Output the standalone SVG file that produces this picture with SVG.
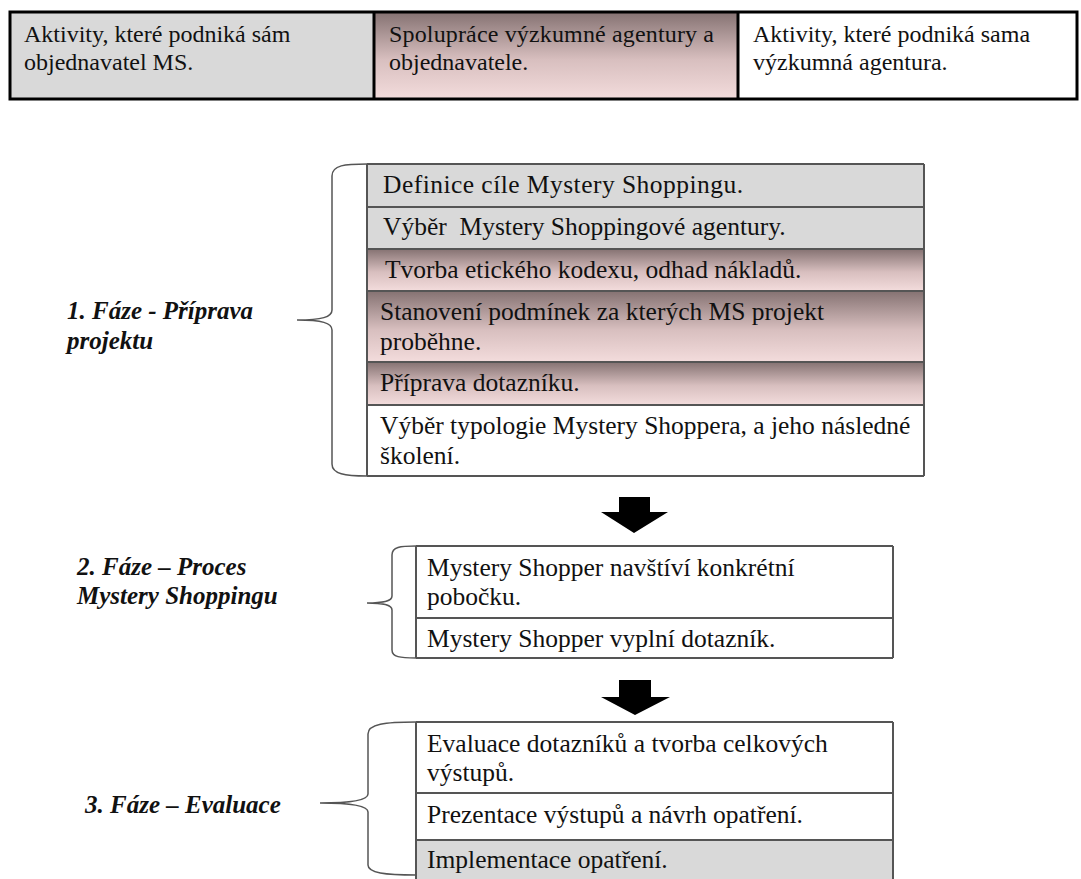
<svg xmlns="http://www.w3.org/2000/svg" width="1081" height="879" viewBox="0 0 1081 879">
<defs>
<linearGradient id="pink" x1="0" y1="0" x2="0" y2="1">
<stop offset="0" stop-color="#857272"/>
<stop offset="0.55" stop-color="#d8bfbf"/>
<stop offset="1" stop-color="#f3dcdc"/>
</linearGradient>
<style>
.t{font-family:"Liberation Serif","Times New Roman",serif;font-size:25.5px;fill:#111}
.h{font-family:"Liberation Serif","Times New Roman",serif;font-size:24px;fill:#111}
.lab{font-family:"Liberation Serif","Times New Roman",serif;font-size:25px;font-weight:bold;font-style:italic;fill:#111}
.row{stroke:#555;stroke-width:2}
.gray{fill:#d9d9d9}
.white{fill:#ffffff}
.pk{fill:url(#pink)}
.brace{fill:none;stroke:#555;stroke-width:1.5}
.arrow{fill:#000}
</style>
</defs>
<rect width="1081" height="879" fill="#ffffff"/>

<g id="legend">
<rect x="10" y="12" width="364" height="87" class="gray"/>
<rect x="374" y="12" width="364" height="87" class="pk"/>
<rect x="738" y="12" width="339" height="87" class="white"/>
<rect x="10" y="12" width="1067" height="87" fill="none" stroke="#000" stroke-width="3"/>
<line x1="374" y1="12" x2="374" y2="99" stroke="#000" stroke-width="3"/>
<line x1="738" y1="12" x2="738" y2="99" stroke="#000" stroke-width="3"/>
<text class="h" x="24" y="42">Aktivity, které podniká sám</text>
<text class="h" x="24" y="70">objednavatel MS.</text>
<text class="h" x="389" y="42" textLength="325" lengthAdjust="spacing">Spolupráce výzkumné agentury a</text>
<text class="h" x="389" y="70">objednavatele.</text>
<text class="h" x="753" y="42">Aktivity, které podniká sama</text>
<text class="h" x="753" y="70">výzkumná agentura.</text>
</g>

<g id="phase1">
<rect x="367" y="164" width="557" height="43" class="gray"/>
<rect x="367" y="207" width="557" height="42" class="gray"/>
<rect x="367" y="249" width="557" height="42" class="pk"/>
<rect x="367" y="291" width="557" height="71" class="pk"/>
<rect x="367" y="362" width="557" height="43" class="pk"/>
<rect x="367" y="405" width="557" height="71" class="white"/>
<g class="row">
<line x1="367" y1="164" x2="924" y2="164"/>
<line x1="367" y1="207" x2="924" y2="207"/>
<line x1="367" y1="249" x2="924" y2="249"/>
<line x1="367" y1="291" x2="924" y2="291"/>
<line x1="367" y1="362" x2="924" y2="362"/>
<line x1="367" y1="405" x2="924" y2="405"/>
<line x1="367" y1="476" x2="924" y2="476"/>
<line x1="367" y1="164" x2="367" y2="476"/>
<line x1="924" y1="164" x2="924" y2="476"/>
</g>
<text class="t" x="383" y="193" textLength="360" lengthAdjust="spacing">Definice cíle Mystery Shoppingu.</text>
<text class="t" x="383" y="235" xml:space="preserve">Výběr  Mystery Shoppingové agentury.</text>
<text class="t" x="385" y="278">Tvorba etického kodexu, odhad nákladů.</text>
<text class="t" x="380" y="320">Stanovení podmínek za kterých MS projekt</text>
<text class="t" x="380" y="350">proběhne.</text>
<text class="t" x="380" y="391">Příprava dotazníku.</text>
<text class="t" x="380" y="434">Výběr typologie Mystery Shoppera, a jeho následné</text>
<text class="t" x="380" y="464">školení.</text>
</g>

<g id="phase2">
<rect x="416" y="546" width="477" height="112" class="white"/>
<g class="row">
<line x1="416" y1="546" x2="893" y2="546"/>
<line x1="416" y1="618" x2="893" y2="618"/>
<line x1="416" y1="658" x2="893" y2="658"/>
<line x1="416" y1="546" x2="416" y2="658"/>
<line x1="893" y1="546" x2="893" y2="658"/>
</g>
<text class="t" x="427" y="576">Mystery Shopper navštíví konkrétní</text>
<text class="t" x="427" y="605">pobočku.</text>
<text class="t" x="427" y="647">Mystery Shopper vyplní dotazník.</text>
</g>

<g id="phase3">
<rect x="416" y="722" width="477" height="118" class="white"/>
<rect x="416" y="840" width="477" height="45" class="gray"/>
<g class="row">
<line x1="416" y1="722" x2="893" y2="722"/>
<line x1="416" y1="793" x2="893" y2="793"/>
<line x1="416" y1="840" x2="893" y2="840"/>
<line x1="416" y1="722" x2="416" y2="879"/>
<line x1="893" y1="722" x2="893" y2="879"/>
</g>
<text class="t" x="427" y="752">Evaluace dotazníků a tvorba celkových</text>
<text class="t" x="427" y="781">výstupů.</text>
<text class="t" x="427" y="823">Prezentace výstupů a návrh opatření.</text>
<text class="t" x="427" y="868">Implementace opatření.</text>
</g>

<g id="labels">
<text class="lab" x="67" y="319">1. Fáze - Příprava</text>
<text class="lab" x="67" y="349">projektu</text>
<text class="lab" x="77" y="575">2. Fáze – Proces</text>
<text class="lab" x="77" y="604">Mystery Shoppingu</text>
<text class="lab" x="85" y="813">3. Fáze – Evaluace</text>
</g>

<g id="connectors">
<path class="brace" d="M367 164 C345 164 332 165 332 176 L332 310 C332 317 322 320 297 320 C322 320 332 323 332 330 L332 464 C332 474 345 476 367 476"/>
<path class="brace" d="M416 546 C400 546 392 547 392 555 L392 596 C392 601 385 603 367 603 C385 603 392 605 392 610 L392 650 C392 657 400 658 416 658"/>
<path class="brace" d="M416 722 C385 722 368 724 368 734 L368 794 C368 800 350 803 320 803 C350 803 368 806 368 812 L368 865 C368 873 385 875 416 875"/>
<polygon class="arrow" points="619,497 650,497 650,512 668,512 634,533 601,512 619,512"/>
<polygon class="arrow" points="619,680 651,680 651,697 670,697 635,715 601,697 619,697"/>
</g>
</svg>
